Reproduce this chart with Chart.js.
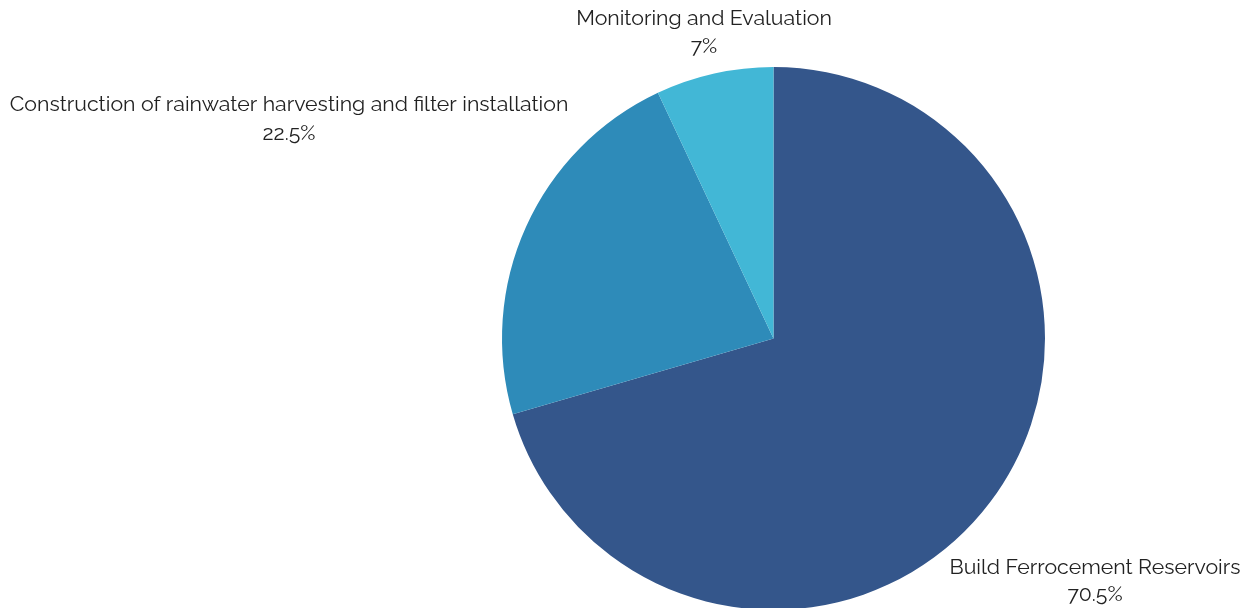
<!DOCTYPE html>
<html>
<head>
<meta charset="utf-8">
<script src="https://cdn.jsdelivr.net/npm/chart.js@4.4.0/dist/chart.umd.min.js"></script>
<style>
  html, body { margin: 0; padding: 0; background: #fff; overflow: hidden; }
  #wrap { position: relative; width: 1250px; height: 610px; }
</style>
</head>
<body>
<div id="wrap"><canvas id="chart"></canvas></div>
<script>
// slices, clockwise from 12 o'clock
const categories = ['Build Ferrocement Reservoirs', 'Construction of rainwater harvesting and filter installation', 'Monitoring and Evaluation'];
const shares = [70.5, 22.5, 7];
const sliceColors = ['#34568b', '#2e8bb9', '#42b7d6'];

// label block centres (text only), same order as categories
const labelSpots = [
  { x: 1095, y: 568, gap: 27 },
  { x: 289, y: 105, gap: 29 },
  { x: 704, y: 19, gap: 28 }
];

const outsideLabels = {
  id: 'outsideLabels',
  afterDatasetsDraw(chart) {
    const { ctx } = chart;
    ctx.save();
    ctx.font = '21.3px Raleway, Lato, sans-serif';
    ctx.fillStyle = '#222';
    ctx.textAlign = 'center';
    ctx.textBaseline = 'middle';
    chart.data.labels.forEach((lbl, i) => {
      const p = labelSpots[i];
      ctx.fillText(lbl, p.x, p.y);
      ctx.fillText(shares[i] + '%', p.x, p.y + p.gap);
    });
    ctx.restore();
  }
};

new Chart(document.getElementById('chart'), {
  type: 'pie',
  data: {
    labels: categories,
    datasets: [{
      data: shares,
      backgroundColor: sliceColors,
      borderWidth: 0
    }]
  },
  options: {
    responsive: true,
    maintainAspectRatio: false,
    animation: false,
    layout: { padding: { left: 502, right: 205, top: 67, bottom: 0 } },
    plugins: {
      legend: { display: false },
      tooltip: { enabled: false }
    }
  },
  plugins: [outsideLabels]
});
</script>
</body>
</html>
